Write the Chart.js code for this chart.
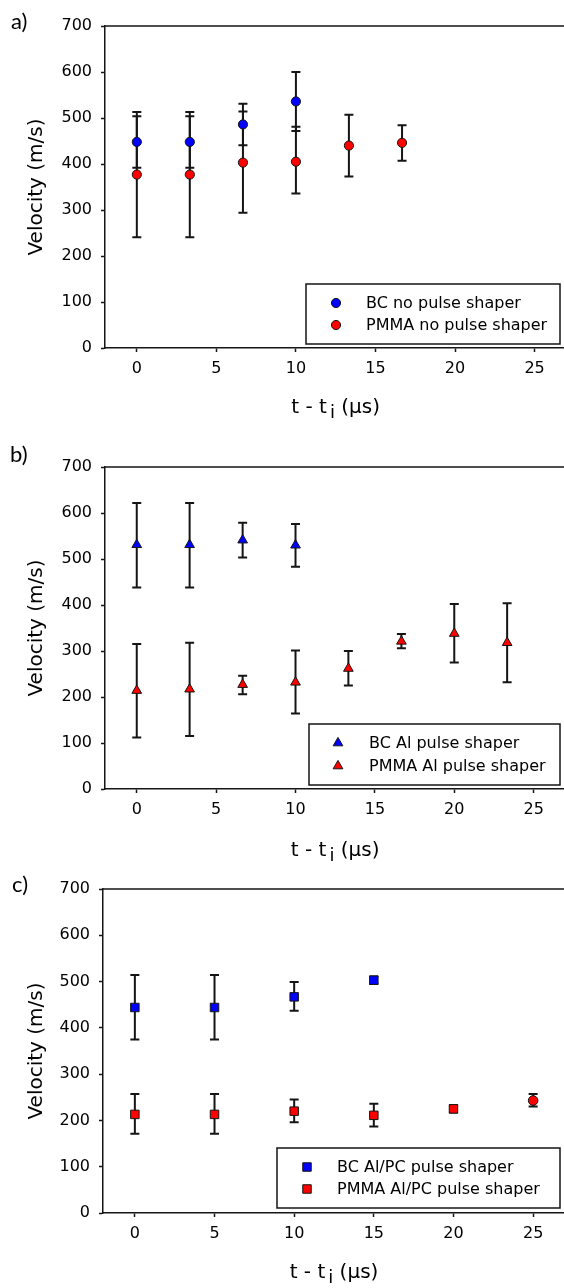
<!DOCTYPE html>
<html><head><meta charset="utf-8">
<script src="https://cdn.jsdelivr.net/npm/chart.js@4.4.1/dist/chart.umd.min.js"></script>
<style>
html,body{margin:0;padding:0;background:#fff;overflow:hidden;width:564px;height:1288px;}
#wrap{position:relative;width:564px;height:1288px;overflow:hidden;background:#fff;}
canvas{position:absolute;left:0;}
.lbl{position:absolute;font-family:Lato,"Open Sans",sans-serif;font-size:22px;line-height:22px;color:#000;}
</style></head>
<body><div id="wrap">
<canvas id="ca" width="572" height="428" style="top:0px"></canvas>
<canvas id="cb" width="572" height="440" style="top:428px"></canvas>
<canvas id="cc" width="572" height="420" style="top:868px"></canvas>
<div class="lbl" style="left:11px;top:10px">a)</div>
<div class="lbl" style="left:10px;top:443px">b)</div>
<div class="lbl" style="left:12px;top:873px">c)</div>
</div>
<script>
// ---------- data ----------
const X_TICKS = [0, 5, 10, 15, 20, 25];
const Y_TICKS = [0, 100, 200, 300, 400, 500, 600, 700];
const X_TITLE_PARTS = ['t - t', 'i', '(μs)'];   // "t - t i (μs)", with subscript i
const Y_TITLE = 'Velocity (m/s)';

// panel a
const A_LABELS = ['BC no pulse shaper', 'PMMA no pulse shaper'];
const A_BC_X = [0, 3.33, 6.67, 10];
const A_BC_Y = [448, 448, 486, 536];
const A_BC_LO = [392, 392, 441, 472];
const A_BC_HI = [504, 504, 531, 600];
const A_PMMA_X = [0, 3.33, 6.67, 10, 13.33, 16.67];
const A_PMMA_Y = [377, 377, 403, 405, 440, 446];
const A_PMMA_LO = [241, 241, 294, 336, 373, 407];
const A_PMMA_HI = [513, 513, 514, 481, 507, 484];

// panel b
const B_LABELS = ['BC Al pulse shaper', 'PMMA Al pulse shaper'];
const B_BC_X = [0, 3.33, 6.67, 10];
const B_BC_Y = [531, 531, 541, 530];
const B_BC_LO = [438, 438, 503, 483];
const B_BC_HI = [622, 622, 579, 576];
const B_PMMA_X = [0, 3.33, 6.67, 10, 13.33, 16.67, 20, 23.33];
const B_PMMA_Y = [214, 217, 227, 232, 262, 321, 338, 318];
const B_PMMA_LO = [112, 115, 206, 164, 225, 306, 275, 232];
const B_PMMA_HI = [315, 318, 246, 301, 300, 337, 402, 404];

// panel c
const C_LABELS = ['BC Al/PC pulse shaper', 'PMMA Al/PC pulse shaper'];
const C_BC_X = [0, 5, 10, 15];
const C_BC_Y = [444, 444, 467, 503];
const C_BC_LO = [375, 375, 437, 495];
const C_BC_HI = [514, 514, 499, 511];
const C_PMMA_X = [0, 5, 10, 15, 20, 25];
const C_PMMA_Y = [213, 213, 220, 211, 225, 243];
const C_PMMA_LO = [171, 171, 196, 187, 217, 230];
const C_PMMA_HI = [257, 257, 245, 236, 233, 257];

// ---------- styles ----------
const BLUE = '#0000ff';
const RED = '#ff0000';
const INK = '#151515';
const FONT = '"DejaVu Sans", Arial, sans-serif';

function series(label, xs, ys, lo, hi, color, style, radius) {
  return {
    label: label,
    data: xs.map((x, i) => ({x: x, y: ys[i]})),
    errLow: lo, errHigh: hi,
    backgroundColor: color, borderColor: INK, borderWidth: 1,
    pointStyle: style, pointRadius: radius, pointHoverRadius: radius,
    showLine: false
  };
}

const errorBars = {
  id: 'errorBars',
  beforeDatasetsDraw(chart) {
    const ctx = chart.ctx, ys = chart.scales.y;
    ctx.save();
    ctx.strokeStyle = INK; ctx.lineWidth = 2; ctx.lineCap = 'butt';
    chart.data.datasets.forEach((ds, i) => {
      const meta = chart.getDatasetMeta(i);
      meta.data.forEach((pt, j) => {
        const x = pt.x;
        const yl = ys.getPixelForValue(ds.errLow[j]);
        const yh = ys.getPixelForValue(ds.errHigh[j]);
        ctx.beginPath();
        ctx.moveTo(x, yl); ctx.lineTo(x, yh);
        ctx.moveTo(x - 4.5, yl); ctx.lineTo(x + 4.5, yl);
        ctx.moveTo(x - 4.5, yh); ctx.lineTo(x + 4.5, yh);
        ctx.stroke();
      });
    });
    ctx.restore();
  }
};

const frame = {
  id: 'frame',
  beforeDatasetsDraw(chart) {
    const ctx = chart.ctx, a = chart.chartArea;
    ctx.save();
    ctx.strokeStyle = INK; ctx.lineWidth = 1.5;
    ctx.beginPath();
    ctx.moveTo(a.left, a.top); ctx.lineTo(a.right, a.top); ctx.lineTo(a.right, a.bottom);
    ctx.stroke();
    ctx.restore();
  }
};

// x-axis title with a lowered subscript "i"
const xTitle = {
  id: 'xTitle',
  afterDraw(chart, args, o) {
    const ctx = chart.ctx, sx = chart.scales.x;
    const big = '20px ' + FONT, small = '18px ' + FONT;
    ctx.save();
    ctx.fillStyle = '#000'; ctx.textBaseline = 'middle'; ctx.textAlign = 'left';
    ctx.font = big;
    const w0 = ctx.measureText(X_TITLE_PARTS[0]).width;
    const w2 = ctx.measureText(X_TITLE_PARTS[2]).width;
    const gap = ctx.measureText(' ').width;
    ctx.font = small;
    const w1 = ctx.measureText(X_TITLE_PARTS[1]).width;
    const total = w0 + 3 + w1 + gap + w2;
    const cx = (sx.left + sx.right) / 2;
    const y = chart.height - o.offset;
    let x = cx - total / 2;
    ctx.font = big; ctx.fillText(X_TITLE_PARTS[0], x, y); x += w0 + 3;
    ctx.font = small; ctx.fillText(X_TITLE_PARTS[1], x, y + 5); x += w1 + gap;
    ctx.font = big; ctx.fillText(X_TITLE_PARTS[2], x, y);
    ctx.restore();
  }
};

function marker(ctx, style, r, x, y) {
  if (Chart.helpers && Chart.helpers.drawPoint) {
    Chart.helpers.drawPoint(ctx, {pointStyle: style, radius: r, borderWidth: 1, rotation: 0}, x, y);
    return;
  }
  ctx.beginPath();
  ctx.arc(x, y, r, 0, Math.PI * 2);
  ctx.fill(); ctx.stroke();
}

const boxLegend = {
  id: 'boxLegend',
  afterDraw(chart, args, o) {
    const ctx = chart.ctx, a = chart.chartArea;
    const bottom = a.bottom - o.bottomGap, top = bottom - o.height;
    ctx.save();
    ctx.fillStyle = '#fff';
    ctx.fillRect(o.left, top, o.right - o.left, o.height);
    ctx.strokeStyle = INK; ctx.lineWidth = 1.5;
    ctx.strokeRect(o.left, top, o.right - o.left, o.height);
    chart.data.datasets.forEach((ds, i) => {
      const y = top + o.rows[i];
      const st = Array.isArray(ds.pointStyle) ? ds.pointStyle[0] : ds.pointStyle;
      const r = Array.isArray(ds.pointRadius) ? ds.pointRadius[0] : ds.pointRadius;
      ctx.fillStyle = ds.backgroundColor; ctx.strokeStyle = ds.borderColor; ctx.lineWidth = ds.borderWidth;
      marker(ctx, st, r, o.left + o.markerDx, y);
      ctx.fillStyle = '#000';
      ctx.font = '16px ' + FONT;
      ctx.textBaseline = 'middle'; ctx.textAlign = 'left';
      ctx.fillText(ds.label, o.left + o.textDx, y + 1);
    });
    ctx.restore();
  }
};

function makeChart(id, datasets, L) {
  const canvas = document.getElementById(id);
  const H = canvas.height;
  return new Chart(canvas, {
    type: 'scatter',
    data: {datasets: datasets},
    plugins: [frame, errorBars, boxLegend, xTitle],
    options: {
      responsive: false, animation: false, events: [],
      devicePixelRatio: 1,
      layout: {padding: {top: L.top, right: L.right, left: 0, bottom: 0}},
      plugins: {
        legend: {display: false}, tooltip: {enabled: false},
        boxLegend: L.legend,
        xTitle: {offset: L.xTitleOffset}
      },
      scales: {
        x: {
          type: 'linear', position: 'bottom', min: -2, max: 27,
          afterBuildTicks: s => { s.ticks = X_TICKS.map(v => ({value: v})); },
          afterFit: s => { s.height = H - L.bottom; },
          border: {display: true, color: INK, width: 1.5},
          grid: {display: true, drawOnChartArea: false, drawTicks: true, tickLength: 4, tickColor: INK, tickWidth: 1.5},
          ticks: {color: '#000', font: {family: FONT, size: 16}, padding: 7, maxRotation: 0},
          title: {display: false}
        },
        y: {
          type: 'linear', position: 'left', min: 0, max: 700,
          afterBuildTicks: s => { s.ticks = Y_TICKS.map(v => ({value: v})); },
          afterFit: s => { s.width = L.left; },
          border: {display: true, color: INK, width: 1.5},
          grid: {display: true, drawOnChartArea: false, drawTicks: true, tickLength: 4, tickColor: INK, tickWidth: 1.5},
          ticks: {color: '#000', font: {family: FONT, size: 16}, padding: 9},
          title: {display: true, text: Y_TITLE, color: '#000', font: {family: FONT, size: 20}, padding: {top: 25, bottom: 0}}
        }
      }
    }
  });
}

makeChart('ca', [
  series(A_LABELS[0], A_BC_X, A_BC_Y, A_BC_LO, A_BC_HI, BLUE, 'circle', 4.6),
  series(A_LABELS[1], A_PMMA_X, A_PMMA_Y, A_PMMA_LO, A_PMMA_HI, RED, 'circle', 4.6)
], {top: 26, bottom: 348, left: 105, right: 3, xTitleOffset: 20,
    legend: {left: 306, right: 560, bottomGap: 4, height: 60, rows: [19, 41], markerDx: 30, textDx: 60}});

makeChart('cb', [
  series(B_LABELS[0], B_BC_X, B_BC_Y, B_BC_LO, B_BC_HI, BLUE, 'triangle', 5.6),
  series(B_LABELS[1], B_PMMA_X, B_PMMA_Y, B_PMMA_LO, B_PMMA_HI, RED, 'triangle', 5.6)
], {top: 39, bottom: 361, left: 105, right: 3, xTitleOffset: 17,
    legend: {left: 309, right: 560, bottomGap: 4, height: 61, rows: [19, 42], markerDx: 29, textDx: 60}});

makeChart('cc', [
  series(C_LABELS[0], C_BC_X, C_BC_Y, C_BC_LO, C_BC_HI, BLUE, 'rect', 6),
  series(C_LABELS[1], C_PMMA_X, C_PMMA_Y, C_PMMA_LO, C_PMMA_HI, RED,
         ['rect', 'rect', 'rect', 'rect', 'rect', 'circle'], [6, 6, 6, 6, 6, 4.8])
], {top: 21, bottom: 345, left: 103, right: 4, xTitleOffset: 15,
    legend: {left: 277, right: 560, bottomGap: 5, height: 60, rows: [19, 41], markerDx: 30, textDx: 60}});
</script>
</body></html>
